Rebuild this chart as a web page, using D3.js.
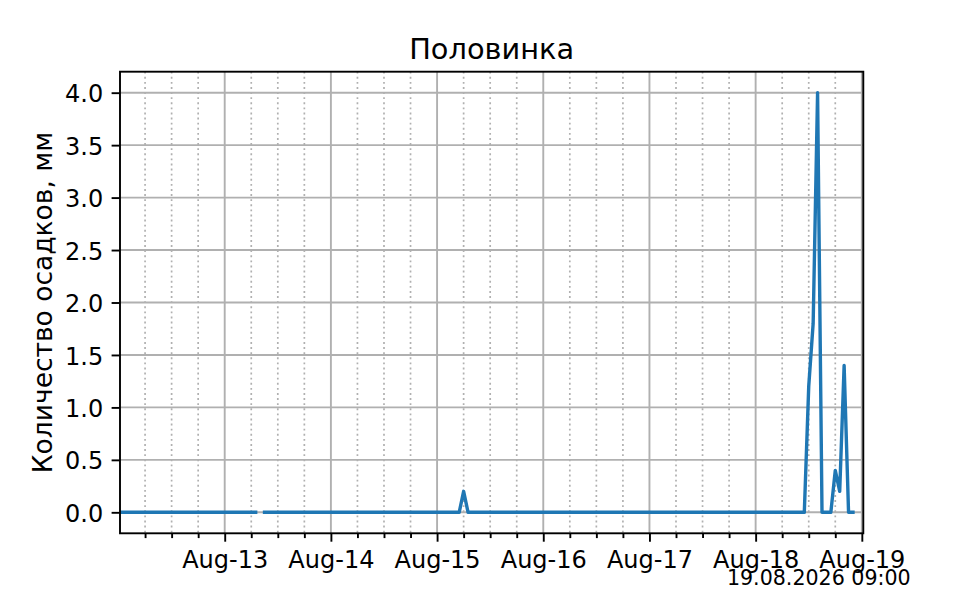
<!DOCTYPE html>
<html>
<head>
<meta charset="utf-8">
<script src="https://cdn.jsdelivr.net/npm/d3@7"></script>
<style>
  body { margin: 0; background: #fff; }
  text { font-family: "DejaVu Sans", sans-serif; fill: #000; }
</style>
</head>
<body>
<div id="chart"></div>
<script>
// chart data
var chartTitle = 'Половинка';
var yLabel = 'Количество осадков, мм';
var stamp = '19.08.2026 09:00';

// hourly series, only the points where the line changes are kept (null = missing hour)
var times = [
  '2026-08-12T00:00', '2026-08-13T07:00', '2026-08-13T08:00', '2026-08-13T09:00',
  '2026-08-15T05:00', '2026-08-15T06:00', '2026-08-15T07:00',
  '2026-08-18T11:00', '2026-08-18T12:00', '2026-08-18T13:00', '2026-08-18T14:00',
  '2026-08-18T15:00', '2026-08-18T16:00', '2026-08-18T17:00', '2026-08-18T18:00',
  '2026-08-18T19:00', '2026-08-18T20:00', '2026-08-18T21:00', '2026-08-18T22:00'
];
var values = [
  0, 0, null, 0,
  0, 0.2, 0,
  0, 1.2, 1.8, 4.0,
  0, 0, 0, 0.4,
  0.2, 1.4, 0, 0
];

var xLimits = ['2026-08-12T00:20', '2026-08-19T00:20'];
var dayTicks = ['2026-08-13', '2026-08-14', '2026-08-15', '2026-08-16', '2026-08-17', '2026-08-18', '2026-08-19'];
var yLimits = [-0.2, 4.2];
var yTicks = [0, 0.5, 1.0, 1.5, 2.0, 2.5, 3.0, 3.5, 4.0];

var W = 960, H = 600;
var L = 120, R = 863.3, T = 71.7, B = 533.3;

var parseT = d3.timeParse('%Y-%m-%dT%H:%M');
var parseD = d3.timeParse('%Y-%m-%d');

var data = times.map(function(t, i){ return {t: parseT(t), v: values[i]}; });
var days = dayTicks.map(parseD);

var x = d3.scaleTime().domain(xLimits.map(parseT)).range([L, R]);
var y = d3.scaleLinear().domain(yLimits).range([B, T]);

var minor = d3.timeHour.every(6).range(x.domain()[0], x.domain()[1])
  .filter(function(d){ return d.getHours() !== 0; });

var svg = d3.select('#chart').append('svg').attr('width', W).attr('height', H);

svg.append('defs').append('clipPath').attr('id', 'plot')
  .append('rect').attr('x', L).attr('y', T).attr('width', R - L).attr('height', B - T);

// grid
var grid = svg.append('g');
grid.selectAll('.minor').data(minor).enter().append('line')
  .attr('x1', function(d){ return x(d); }).attr('x2', function(d){ return x(d); })
  .attr('y1', T).attr('y2', B)
  .attr('stroke', '#b0b0b0').attr('stroke-width', 1.7).attr('stroke-dasharray', '1.9,3.2');
grid.selectAll('.vmaj').data(days).enter().append('line')
  .attr('x1', function(d){ return x(d); }).attr('x2', function(d){ return x(d); })
  .attr('y1', T).attr('y2', B)
  .attr('stroke', '#b0b0b0').attr('stroke-width', 1.9);
grid.selectAll('.hmaj').data(yTicks).enter().append('line')
  .attr('x1', L).attr('x2', R)
  .attr('y1', function(d){ return y(d); }).attr('y2', function(d){ return y(d); })
  .attr('stroke', '#b0b0b0').attr('stroke-width', 1.9);

// series
var line = d3.line()
  .defined(function(d){ return d.v !== null; })
  .x(function(d){ return x(d.t); })
  .y(function(d){ return y(d.v); });

svg.append('path').datum(data)
  .attr('clip-path', 'url(#plot)')
  .attr('d', line)
  .attr('fill', 'none')
  .attr('stroke', '#1f77b4')
  .attr('stroke-width', 3.4)
  .attr('stroke-linecap', 'square')
  .attr('stroke-linejoin', 'round');

// axes
var xAxis = svg.append('g').attr('transform', 'translate(0,' + B + ')')
  .call(d3.axisBottom(x).tickValues(days).tickFormat(d3.timeFormat('%b-%d')).tickSize(8.4).tickPadding(9.3));
var xMinor = svg.append('g').attr('transform', 'translate(0,' + B + ')')
  .call(d3.axisBottom(x).tickValues(minor).tickFormat('').tickSize(4.8));
var yAxis = svg.append('g').attr('transform', 'translate(' + L + ',0)')
  .call(d3.axisLeft(y).tickValues(yTicks).tickFormat(d3.format('.1f')).tickSize(8.4).tickPadding(8.4));

[xAxis, xMinor, yAxis].forEach(function(a){
  a.select('.domain').remove();
  a.selectAll('line').attr('stroke', '#000').attr('stroke-width', 1.9);
  a.selectAll('text').attr('font-size', 24).attr('font-family', '"DejaVu Sans", sans-serif').attr('fill', '#000');
});
yAxis.selectAll('text').attr('dy', '0.38em');

// spines
svg.append('rect').attr('x', L).attr('y', T).attr('width', R - L).attr('height', B - T)
  .attr('fill', 'none').attr('stroke', '#000').attr('stroke-width', 1.9);

// texts
svg.append('text').attr('x', (L + R) / 2).attr('y', 59.3)
  .attr('text-anchor', 'middle').attr('font-size', 28.8).text(chartTitle);

svg.append('text').attr('transform', 'translate(52,' + ((T + B) / 2) + ') rotate(-90)')
  .attr('text-anchor', 'middle').attr('font-size', 26.5).text(yLabel);

svg.append('text').attr('x', 910.7).attr('y', 585)
  .attr('text-anchor', 'end').attr('font-size', 20.6).text(stamp);
</script>
</body>
</html>
